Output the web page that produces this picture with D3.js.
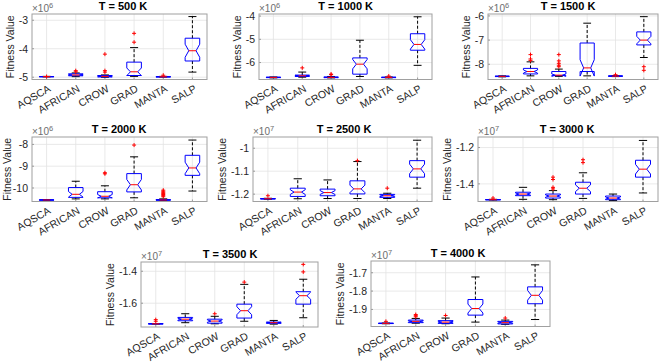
<!DOCTYPE html>
<html>
<head>
<meta charset="utf-8">
<script src="https://cdn.jsdelivr.net/npm/d3@7"></script>
<style>
    body { margin: 0; background: #fff; }
    svg { display: block; font-family: "Liberation Sans", Arial, Helvetica, sans-serif; }
</style>
</head>
<body>
<svg id="chart" width="661" height="363"></svg>
<script>
// one panel per temperature, values shown in units of 10^exponent
const categories = ["AQSCA", "AFRICAN", "CROW", "GRAD", "MANTA", "SALP"];
const temperatures = [500, 1000, 1500, 2000, 2500, 3000, 3500, 4000];
const exponents = [6, 6, 6, 6, 7, 7, 7, 7];

const yTicks = [
    [-5, -4, -3],
    [-6, -5, -4],
    [-8, -7, -6],
    [-10, -9, -8],
    [-1.2, -1.1, -1],
    [-1.4, -1.2],
    [-1.6, -1.4],
    [-1.9, -1.8, -1.7]
];

const yDomains = [
    [-5.08, -2.78],
    [-6.73, -3.91],
    [-8.63, -5.92],
    [-10.62, -7.66],
    [-1.232, -0.951],
    [-1.497, -1.142],
    [-1.749, -1.342],
    [-1.993, -1.636]
];

// five-number summaries, rows = panels, columns = categories
const whiskerLow = [
    [-4.99, -4.98, -5.0, -4.97, -4.995, -4.82],
    [-6.66, -6.63, -6.66, -6.6, -6.66, -6.12],
    [-8.52, -8.48, -8.5, -8.48, -8.51, -7.72],
    [-10.57, -10.5, -10.5, -10.45, -10.57, -10.14],
    [-1.222, -1.22, -1.219, -1.219, -1.219, -1.174],
    [-1.489, -1.485, -1.487, -1.48, -1.491, -1.45],
    [-1.731, -1.722, -1.729, -1.713, -1.731, -1.691],
    [-1.978, -1.975, -1.978, -1.969, -1.981, -1.955]
];

const lowerQuartile = [
    [-4.985, -4.95, -4.99, -4.94, -4.99, -4.43],
    [-6.65, -6.6, -6.65, -6.5, -6.65, -5.47],
    [-8.51, -8.4, -8.47, -8.3, -8.5, -7.2],
    [-10.56, -10.43, -10.45, -10.18, -10.56, -9.42],
    [-1.221, -1.21, -1.207, -1.199, -1.214, -1.126],
    [-1.488, -1.465, -1.478, -1.456, -1.487, -1.363],
    [-1.73, -1.71, -1.725, -1.693, -1.726, -1.606],
    [-1.977, -1.972, -1.976, -1.931, -1.979, -1.869]
];

const medians = [
    [-4.98, -4.92, -4.97, -4.81, -4.985, -4.07],
    [-6.64, -6.57, -6.64, -6.07, -6.64, -5.22],
    [-8.5, -8.3, -8.45, -8.15, -8.49, -7.0],
    [-10.55, -10.29, -10.38, -9.85, -10.55, -9.08],
    [-1.22, -1.191, -1.193, -1.177, -1.207, -1.09],
    [-1.487, -1.456, -1.467, -1.424, -1.478, -1.319],
    [-1.729, -1.7, -1.712, -1.647, -1.722, -1.553],
    [-1.976, -1.965, -1.969, -1.895, -1.972, -1.823]
];

const upperQuartile = [
    [-4.975, -4.88, -4.94, -4.47, -4.98, -3.63],
    [-6.63, -6.54, -6.62, -5.8, -6.63, -4.76],
    [-8.49, -8.17, -8.3, -7.12, -8.48, -6.66],
    [-10.54, -9.98, -10.17, -9.34, -10.53, -8.5],
    [-1.219, -1.174, -1.178, -1.142, -1.201, -1.054],
    [-1.486, -1.446, -1.456, -1.391, -1.467, -1.27],
    [-1.728, -1.689, -1.7, -1.606, -1.718, -1.528],
    [-1.975, -1.958, -1.961, -1.846, -1.965, -1.777]
];

const whiskerHigh = [
    [-4.97, -4.85, -4.92, -3.96, -4.97, -2.87],
    [-6.62, -6.41, -6.6, -5.04, -6.62, -4.03],
    [-8.48, -7.9, -8.2, -6.3, -8.47, -6.03],
    [-10.53, -9.69, -9.9, -8.57, -10.5, -7.8],
    [-1.218, -1.133, -1.138, -1.058, -1.196, -0.965],
    [-1.485, -1.419, -1.437, -1.339, -1.456, -1.161],
    [-1.727, -1.666, -1.682, -1.482, -1.708, -1.45],
    [-1.974, -1.949, -1.947, -1.723, -1.958, -1.657]
];

const outliers = [
    [[-4.975], [-4.77, -4.81], [-4.19, -4.77, -4.82], [-3.46, -3.77], [-4.93], []],
    [[], [-6.23], [-6.52, -6.5], [], [-6.58], []],
    [[], [-7.6, -7.78, -7.84], [-7.6, -7.86, -7.96, -8.04, -8.1], [], [-8.43], [-8.1, -8.25]],
    [[], [], [-9.3, -9.35], [-8.03], [-10.1, -10.15, -10.2, -10.25, -10.3, -10.35, -10.4], []],
    [[-1.207], [], [], [-1.054], [-1.174], []],
    [[-1.478], [], [-1.363, -1.376, -1.419, -1.428], [-1.267, -1.283], [], []],
    [[-1.703, -1.713], [], [-1.666], [-1.468], [], [-1.357, -1.404]],
    [[-1.965], [-1.928, -1.934, -1.94], [-1.933], [], [-1.947], []]
];

// layout: axes frame [left, right, top, bottom] and title centre
const frames = [
    [32, 207, 14, 79.5],
    [259, 432, 14, 79.5],
    [488, 658, 14, 79.5],
    [32, 207, 137, 201.5],
    [253, 432, 137, 201.5],
    [478, 658, 137, 201.5],
    [141, 318, 262, 327],
    [371, 550, 261, 326.5]
];
const titleCenters = [123, 345.7, 568, 119, 344, 567, 230, 458];

const textColor = "#262626";
const sampleSize = 30;

const svg = d3.select("#chart");

temperatures.forEach((t, i) => drawPanel(i));

function drawPanel(i) {
    const [left, right, top, bottom] = frames[i];

    const x = d3.scalePoint()
        .domain(categories)
        .range([left, right])
        .padding(0.5);

    const y = d3.scaleLinear()
        .domain(yDomains[i])
        .range([bottom, top]);

    const step = x.step();
    const halfBox = step * 0.25;

    const g = svg.append("g");

    // grid
    g.selectAll("line.vgrid")
        .data(categories)
        .enter()
        .append("line")
            .attr("x1", d => x(d))
            .attr("x2", d => x(d))
            .attr("y1", top)
            .attr("y2", bottom)
            .attr("stroke", "#e3e3e3")
            .attr("stroke-width", 0.8);

    g.selectAll("line.hgrid")
        .data(yTicks[i])
        .enter()
        .append("line")
            .attr("x1", left)
            .attr("x2", right)
            .attr("y1", d => y(d))
            .attr("y2", d => y(d))
            .attr("stroke", "#e3e3e3")
            .attr("stroke-width", 0.8);

    // y axis labels
    const yAxis = g.append("g")
        .attr("transform", `translate(${left},0)`)
        .call(d3.axisLeft(y).tickValues(yTicks[i]).tickSize(0).tickPadding(4).tickFormat(d => String(d)));
    yAxis.select(".domain").remove();
    yAxis.selectAll("text")
        .attr("font-family", null)
        .style("font-size", "10.5px")
        .attr("fill", textColor);

    // x tick labels, rotated
    g.selectAll("text.xlab")
        .data(categories)
        .enter()
        .append("text")
            .text(d => d)
            .attr("transform", d => `translate(${x(d) + 3},${bottom + 8}) rotate(-30)`)
            .attr("dy", "0.35em")
            .style("text-anchor", "end")
            .style("font-size", "10.5px")
            .attr("fill", textColor);

    // small inward ticks
    g.selectAll("line.xtick")
        .data(categories)
        .enter()
        .append("line")
            .attr("x1", d => x(d))
            .attr("x2", d => x(d))
            .attr("y1", bottom)
            .attr("y2", bottom - 2)
            .attr("stroke", "#9a9a9a");

    g.selectAll("line.ytick")
        .data(yTicks[i])
        .enter()
        .append("line")
            .attr("x1", left)
            .attr("x2", left + 2)
            .attr("y1", d => y(d))
            .attr("y2", d => y(d))
            .attr("stroke", "#9a9a9a");

    // boxes
    const stats = categories.map((c, j) => ({
        "cat": c,
        "lo": whiskerLow[i][j],
        "q1": lowerQuartile[i][j],
        "med": medians[i][j],
        "q3": upperQuartile[i][j],
        "hi": whiskerHigh[i][j],
        "out": outliers[i][j]
    }));

    const box = g.selectAll("g.box")
        .data(stats)
        .enter()
        .append("g");

    // whiskers
    box.append("line")
        .attr("x1", d => x(d.cat))
        .attr("x2", d => x(d.cat))
        .attr("y1", d => y(d.q3))
        .attr("y2", d => y(d.hi))
        .attr("stroke", "black")
        .attr("stroke-dasharray", "3,2");

    box.append("line")
        .attr("x1", d => x(d.cat))
        .attr("x2", d => x(d.cat))
        .attr("y1", d => y(d.q1))
        .attr("y2", d => y(d.lo))
        .attr("stroke", "black")
        .attr("stroke-dasharray", "3,2");

    box.selectAll("line.cap")
        .data(d => [[d.cat, d.hi], [d.cat, d.lo]])
        .enter()
        .append("line")
            .attr("x1", d => x(d[0]) - halfBox * 0.55)
            .attr("x2", d => x(d[0]) + halfBox * 0.55)
            .attr("y1", d => y(d[1]))
            .attr("y2", d => y(d[1]))
            .attr("stroke", "black");

    // notched box
    box.append("path")
        .attr("d", d => {
            const cx = x(d.cat);
            const notch = 1.57 * (d.q3 - d.q1) / Math.sqrt(sampleSize);
            const pts = [
                [cx - halfBox, y(d.q1)],
                [cx - halfBox, y(d.med - notch)],
                [cx - halfBox / 2, y(d.med)],
                [cx - halfBox, y(d.med + notch)],
                [cx - halfBox, y(d.q3)],
                [cx + halfBox, y(d.q3)],
                [cx + halfBox, y(d.med + notch)],
                [cx + halfBox / 2, y(d.med)],
                [cx + halfBox, y(d.med - notch)],
                [cx + halfBox, y(d.q1)]
            ];
            return d3.line()(pts) + "Z";
        })
        .attr("fill", "none")
        .attr("stroke", "#0000ff")
        .attr("stroke-width", 1);

    box.append("line")
        .attr("x1", d => x(d.cat) - halfBox / 2)
        .attr("x2", d => x(d.cat) + halfBox / 2)
        .attr("y1", d => y(d.med))
        .attr("y2", d => y(d.med))
        .attr("stroke", "#ff0000");

    // outliers
    box.selectAll("path.out")
        .data(d => d.out.map(v => [d.cat, v]))
        .enter()
        .append("path")
            .attr("d", "M-2,0H2M0,-2V2")
            .attr("transform", d => `translate(${x(d[0])},${y(d[1])})`)
            .attr("stroke", "#ff0000")
            .attr("stroke-width", 1);

    // frame
    g.append("rect")
        .attr("x", left)
        .attr("y", top)
        .attr("width", right - left)
        .attr("height", bottom - top)
        .attr("fill", "none")
        .attr("stroke", "#a0a0a0")
        .attr("stroke-width", 1);

    // y label, placed left of the tick labels
    const tickWidth = d3.max(yAxis.selectAll("text").nodes(), n => n.getComputedTextLength());
    g.append("text")
        .text("Fitness Value")
        .attr("transform", `translate(${Math.max(11, left - 4 - tickWidth - 5)},${(top + bottom) / 2}) rotate(-90)`)
        .style("text-anchor", "middle")
        .style("font-size", "10.5px")
        .attr("fill", textColor);

    // exponent
    const expo = g.append("text")
        .attr("x", left)
        .attr("y", top - 2.5)
        .style("font-size", "10px")
        .attr("fill", "#6e6e6e");
    expo.append("tspan").text("\u00d710");
    expo.append("tspan")
        .text(exponents[i])
        .attr("dy", -4)
        .style("font-size", "7.5px");

    // title
    g.append("text")
        .text(`T = ${temperatures[i]} K`)
        .attr("x", titleCenters[i])
        .attr("y", top - 4.5)
        .style("text-anchor", "middle")
        .style("font-size", "11px")
        .style("font-weight", "bold")
        .attr("fill", "black");
}
</script>
</body>
</html>
